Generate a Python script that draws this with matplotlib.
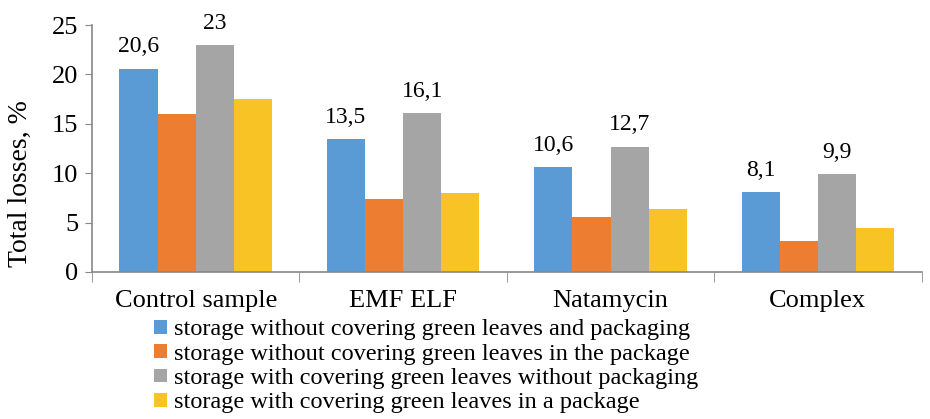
import matplotlib
matplotlib.use("Agg")
import matplotlib.pyplot as plt
import numpy as np

categories = ["Control sample", "EMF ELF", "Natamycin", "Complex"]
series_names = [
    "storage without covering green leaves and packaging",
    "storage without covering green leaves in the package",
    "storage with covering green leaves without packaging",
    "storage with covering green leaves in a package",
]
no_cover_no_pack = [20.6, 13.5, 10.6, 8.1]
no_cover_pack = [16.0, 7.4, 5.6, 3.1]
cover_no_pack = [23.0, 16.1, 12.7, 9.9]
cover_pack = [17.5, 8.0, 6.4, 4.5]
y_ticks = [0, 5, 10, 15, 20, 25]

colors = ["#5B9BD5", "#ED7D31", "#A5A5A5", "#F7C325"]
labelled = [True, False, True, False]

plt.rcParams["font.family"] = ["Liberation Serif", "DejaVu Serif"]

fig = plt.figure(figsize=(9.30, 4.19), dpi=100)
ax = fig.add_axes([0.099, 0.351, 0.892, 0.589])

x = np.arange(len(categories))
width = 0.184
series = [no_cover_no_pack, no_cover_pack, cover_no_pack, cover_pack]
handles = []
for i, (vals, color, name) in enumerate(zip(series, colors, series_names)):
    pos = x + (i - 1.5) * width
    bars = ax.bar(pos, vals, width=width, color=color, label=name)
    handles.append(bars)
    if labelled[i]:
        for b, v in zip(bars, vals):
            txt = f"{v:g}".replace(".", ",")
            ax.annotate(txt, (b.get_x() + b.get_width() / 2, v),
                        xytext=(0, 8), textcoords="offset points",
                        ha="center", va="bottom", fontsize=17)

ax.set_xlim(-0.5, len(categories) - 0.5)
ax.set_ylim(0, 25)
ax.set_yticks(y_ticks)
ax.tick_params(axis="y", labelsize=19, length=5, color="#888888", pad=5)

# category labels in the middle, tick marks on the group boundaries
ax.set_xticks(x)
ax.set_xticklabels(categories, fontsize=19)
ax.tick_params(axis="x", which="major", length=0, pad=13)
ax.set_xticks(np.arange(-0.5, len(categories), 1.0), minor=True)
ax.tick_params(axis="x", which="minor", length=7, color="#888888")

for side in ["top", "right"]:
    ax.spines[side].set_visible(False)
for side in ["left", "bottom"]:
    ax.spines[side].set_color("#888888")
    ax.spines[side].set_linewidth(1.2)

ax.set_ylabel("Total losses, %", fontsize=20)
ax.yaxis.set_label_coords(-0.071, 0.36)

fig.legend(handles=handles, labels=series_names, loc="upper left",
           bbox_to_anchor=(0.166, 0.238), frameon=False, fontsize=17.5,
           handlelength=0.5, handleheight=0.5, handletextpad=0.3,
           labelspacing=0.14, borderpad=0, borderaxespad=0)

fig.savefig("out.png", dpi=100)
